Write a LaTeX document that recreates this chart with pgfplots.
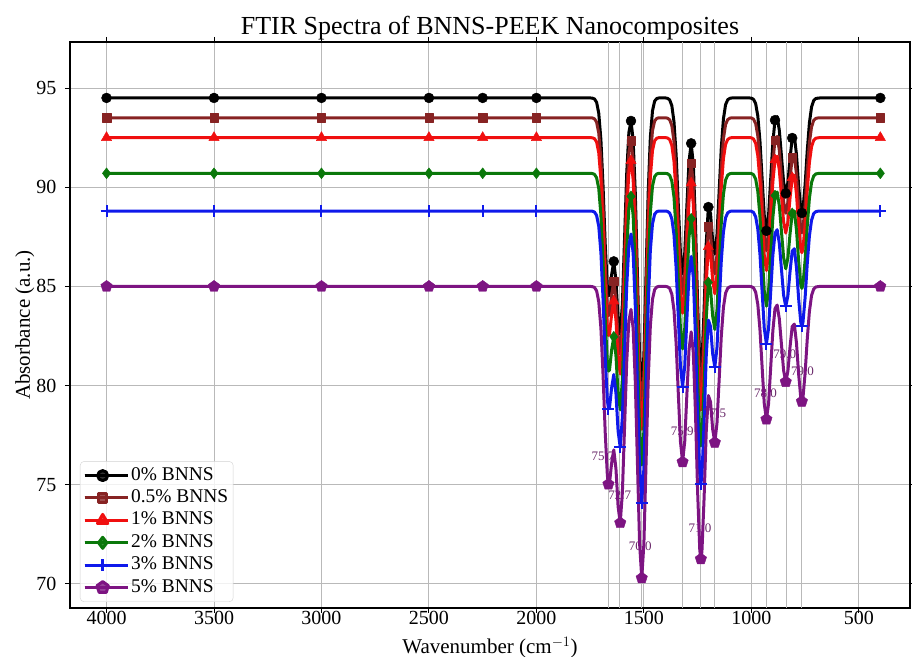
\documentclass[border=0pt]{standalone}
\usepackage{pgfplots}
\pgfplotsset{compat=1.18}
\usepackage{pgfplotstable}
\usepackage{fontspec}
\setmainfont{Liberation Serif}

\definecolor{cblack}{RGB}{0,0,0}
\definecolor{cbrown}{RGB}{135,35,35}
\definecolor{cred}{RGB}{240,15,15}
\definecolor{cgreen}{RGB}{10,120,10}
\definecolor{cblue}{RGB}{15,25,235}
\definecolor{cpurple}{RGB}{125,20,130}
\definecolor{cann}{RGB}{105,40,105}

\pgfplotstableread{
x s0 s05 s1 s2 s3 s5
4000 94.5 93.5 92.5 90.7 88.8 85.0
3500 94.5 93.5 92.5 90.7 88.8 85.0
3000 94.5 93.5 92.5 90.7 88.8 85.0
2500 94.5 93.5 92.5 90.7 88.8 85.0
2250 94.5 93.5 92.5 90.7 88.8 85.0
2000 94.5 93.5 92.5 90.7 88.8 85.0
1760 94.5 93.5 92.5 90.7 88.8 85.0
1750 94.5 93.5 92.5 90.7 88.8 85.0
1740 94.49 93.49 92.49 90.69 88.79 84.99
1730 94.45 93.45 92.45 90.65 88.75 84.95
1720 94.28 93.28 92.28 90.48 88.58 84.78
1710 93.73 92.73 91.73 89.93 88.03 84.23
1700 92.40 91.40 90.40 88.60 86.70 82.90
1690 90.05 89.05 88.05 86.25 84.35 80.55
1680 87.15 86.15 85.15 83.35 81.45 77.65
1670 84.97 83.97 82.97 81.17 79.27 75.47
1665 84.53 83.53 82.53 80.73 78.83 75.03
1660 84.58 83.58 82.58 80.78 78.88 75.08
1650 85.60 84.60 83.60 81.80 79.90 76.10
1640 86.26 85.26 84.26 82.46 80.56 76.76
1630 85.31 84.31 83.31 81.51 79.61 75.81
1620 83.40 82.40 81.40 79.60 77.70 73.90
1610 82.58 81.58 80.58 78.78 76.88 73.08
1600 84.13 83.13 82.13 80.33 78.43 74.63
1590 87.39 86.39 85.39 83.59 81.69 77.89
1580 90.67 89.67 88.67 86.87 84.97 81.17
1570 92.75 91.75 90.75 88.95 87.05 83.25
1560 93.34 92.34 91.34 89.54 87.64 83.84
1550 92.38 91.38 90.38 88.58 86.68 82.88
1540 89.70 88.70 87.70 85.90 84.00 80.20
1530 85.58 84.58 83.58 81.78 79.88 76.08
1520 81.53 80.53 79.53 77.73 75.83 72.03
1510 79.80 78.80 77.80 76.00 74.10 70.30
1500 81.53 80.53 79.53 77.73 75.83 72.03
1490 85.58 84.58 83.58 81.78 79.88 76.08
1480 89.73 88.73 87.73 85.93 84.03 80.23
1470 92.51 91.51 90.51 88.71 86.81 83.01
1460 93.85 92.85 91.85 90.05 88.15 84.35
1450 94.34 93.34 92.34 90.54 88.64 84.84
1440 94.47 93.47 92.47 90.67 88.77 84.97
1430 94.5 93.5 92.5 90.7 88.8 85.0
1400 94.5 93.5 92.5 90.7 88.8 85.0
1390 94.48 93.48 92.48 90.68 88.78 84.98
1380 94.40 93.40 92.40 90.60 88.70 84.90
1370 94.11 93.11 92.11 90.31 88.41 84.61
1360 93.30 92.30 91.30 89.50 87.60 83.80
1350 91.63 90.63 89.63 87.83 85.93 82.13
1340 89.13 88.13 87.13 85.33 83.43 79.63
1330 86.69 85.69 84.69 82.89 80.99 77.19
1320 85.65 84.65 83.65 81.85 79.95 76.15
1310 86.68 85.68 84.68 82.88 80.98 77.18
1300 89.06 88.06 87.06 85.26 83.36 79.56
1290 91.31 90.31 89.31 87.51 85.61 81.81
1280 92.21 91.21 90.21 88.41 86.51 82.71
1270 91.15 90.15 89.15 87.35 85.45 81.65
1260 88.13 87.13 86.13 84.33 82.43 78.63
1250 84.14 83.14 82.14 80.34 78.44 74.64
1240 81.20 80.20 79.20 77.40 75.50 71.70
1235 80.76 79.76 78.76 76.96 75.06 71.26
1230 81.13 80.13 79.13 77.33 75.43 71.63
1220 83.82 82.82 81.82 80.02 78.12 74.32
1210 87.17 86.17 85.17 83.37 81.47 77.67
1200 89.00 88.00 87.00 85.20 83.30 79.50
1190 88.68 87.68 86.68 84.88 82.98 79.18
1180 87.30 86.30 85.30 83.50 81.60 77.80
1170 86.63 85.63 84.63 82.83 80.93 77.13
1160 87.60 86.60 85.60 83.80 81.90 78.10
1150 89.77 88.77 87.77 85.97 84.07 80.27
1140 91.97 90.97 89.97 88.17 86.27 82.47
1130 93.44 92.44 91.44 89.64 87.74 83.94
1120 94.16 93.16 92.16 90.36 88.46 84.66
1110 94.41 93.41 92.41 90.61 88.71 84.91
1100 94.48 93.48 92.48 90.68 88.78 84.98
1090 94.5 93.5 92.5 90.7 88.8 85.0
1010 94.5 93.5 92.5 90.7 88.8 85.0
1000 94.49 93.49 92.49 90.69 88.79 84.99
990 94.43 93.43 92.43 90.63 88.73 84.93
980 94.21 93.21 92.21 90.41 88.51 84.71
970 93.59 92.59 91.59 89.79 87.89 84.09
960 92.32 91.32 90.32 88.52 86.62 82.82
950 90.44 89.44 88.44 86.64 84.74 80.94
940 88.59 87.59 86.59 84.79 82.89 79.09
930 87.80 86.80 85.80 84.00 82.10 78.30
920 88.58 87.58 86.58 84.78 82.88 79.08
910 90.43 89.43 88.43 86.63 84.73 80.93
900 92.27 91.27 90.27 88.47 86.57 82.77
890 93.38 92.38 91.38 89.58 87.68 83.88
880 93.56 92.56 91.56 89.76 87.86 84.06
870 92.87 91.87 90.87 89.07 87.17 83.37
860 91.57 90.57 89.57 87.77 85.87 82.07
850 90.26 89.26 88.26 86.46 84.56 80.76
840 89.69 88.69 87.69 85.89 83.99 80.19
830 90.23 89.23 88.23 86.43 84.53 80.73
820 91.46 90.46 89.46 87.66 85.76 81.96
810 92.48 91.48 90.48 88.68 86.78 82.98
800 92.60 91.60 90.60 88.80 86.90 83.10
790 91.63 90.63 89.63 87.83 85.93 82.13
780 90.07 89.07 88.07 86.27 84.37 80.57
770 88.87 87.87 86.87 85.07 83.17 79.37
765 88.70 87.70 86.70 84.90 83.00 79.20
760 88.88 87.88 86.88 85.08 83.18 79.38
750 90.12 89.12 88.12 86.32 84.42 80.62
740 91.84 90.84 89.84 88.04 86.14 82.34
730 93.24 92.24 91.24 89.44 87.54 83.74
720 94.04 93.04 92.04 90.24 88.34 84.54
710 94.37 93.37 92.37 90.57 88.67 84.87
700 94.47 93.47 92.47 90.67 88.77 84.97
690 94.49 93.49 92.49 90.69 88.79 84.99
680 94.5 93.5 92.5 90.7 88.8 85.0
400 94.5 93.5 92.5 90.7 88.8 85.0
}\spectra

% markers at local maxima (black, brown, red, green)
\pgfplotstableread{
x s0 s05 s1 s2
4000 94.5 93.5 92.5 90.7
3500 94.5 93.5 92.5 90.7
3000 94.5 93.5 92.5 90.7
2500 94.5 93.5 92.5 90.7
2250 94.5 93.5 92.5 90.7
2000 94.5 93.5 92.5 90.7
1640 86.26 85.26 84.26 82.46
1560 93.34 92.34 91.34 89.54
1280 92.21 91.21 90.21 88.41
1200 89.00 88.00 87.00 85.20
890 93.38 92.38 91.38 89.58
810 92.48 91.48 90.48 88.68
400 94.5 93.5 92.5 90.7
}\markmax

\pgfplotstableread{
x s0
930 87.80
840 89.69
765 88.70
}\markblackmin

% markers at minima (blue, purple)
\pgfplotstableread{
x s3 s5
4000 88.8 85.0
3500 88.8 85.0
3000 88.8 85.0
2500 88.8 85.0
2250 88.8 85.0
2000 88.8 85.0
1665 78.83 75.03
1610 76.88 73.08
1510 74.10 70.30
1320 79.95 76.15
1235 75.06 71.26
1170 80.93 77.13
930 82.10 78.30
840 83.99 80.19
765 83.00 79.20
400 88.8 85.0
}\markmin

\begin{document}
\begin{tikzpicture}
\begin{axis}[
  scale only axis, width=840pt, height=566pt,
  x dir=reverse, xmin=262, xmax=4170, ymin=68.79, ymax=97.32,
  xtick={500,1000,...,4000}, ytick={70,75,...,95},
  extra x ticks={1666,1612,1511,1321,1236,1171,930,837,765},
  extra x tick labels={},
  extra x tick style={major tick length=0pt, grid=major},
  grid=major, major grid style={draw=gray!55, line width=1pt},
  tick align=outside, major tick length=5pt,
  tick style={black, line width=1pt},
  axis line style={black, line width=1.2pt},
  tick label style={font=\fontsize{20}{24}\selectfont},
  /pgf/number format/assume math mode=true,
  /pgf/number format/1000 sep={},
  xticklabel style={anchor=base, yshift=-12pt},
  yticklabel style={anchor=east, xshift=-5pt},
  label style={font=\fontsize{21}{25}\selectfont},
  xlabel={Wavenumber (cm$^{-1}$)},
  ylabel={Absorbance (a.u.)},
  xlabel style={at={(axis description cs:0.5,-0.081)}, anchor=base},
  ylabel style={at={(axis description cs:-0.0476,0.5)}, anchor=base},
  title={FTIR Spectra of BNNS-PEEK Nanocomposites},
  title style={at={(axis description cs:0.5,1.002)}, anchor=base, font=\fontsize{26}{30}\selectfont},
  legend cell align=left,
  legend image code/.code={\draw[mark repeat=2,mark phase=2,#1] plot coordinates {(0pt,0pt) (18pt,0pt) (36pt,0pt)}; \path (0pt,0pt) -- (43pt,0pt);},
  legend style={at={(axis description cs:0.0119,0.0106)}, anchor=south west,
    draw=gray!35, rounded corners=4pt, fill=white, fill opacity=0.8, text opacity=1, draw opacity=1,
    font=\fontsize{19.4}{22}\selectfont, inner sep=3pt,
    nodes={inner ysep=2.2pt, text height=13.5pt, text depth=4.5pt}},
  every axis plot/.append style={line join=round},
]
% 0% BNNS
\addplot[cblack, line width=3pt, no marks, forget plot] table[x=x, y=s0] {\spectra};
\addplot[cblack, only marks, mark=*, mark size=5pt, forget plot] table[x=x, y=s0] {\markmax};
\addplot[cblack, only marks, mark=*, mark size=5pt, forget plot] table[x=x, y=s0] {\markblackmin};
% 0.5% BNNS
\addplot[cbrown, line width=3pt, no marks, forget plot] table[x=x, y=s05] {\spectra};
\addplot[cbrown, only marks, mark=square*, mark size=4.2pt, forget plot] table[x=x, y=s05] {\markmax};
% 1% BNNS
\addplot[cred, line width=3pt, no marks, forget plot] table[x=x, y=s1] {\spectra};
\addplot[cred, only marks, mark=triangle*, mark size=6pt, forget plot] table[x=x, y=s1] {\markmax};
% 2% BNNS
\addplot[cgreen, line width=3pt, no marks, forget plot] table[x=x, y=s2] {\spectra};
\addplot[cgreen, only marks, mark=diamond*, mark size=5.5pt, forget plot] table[x=x, y=s2] {\markmax};
% 3% BNNS
\addplot[cblue, line width=3pt, no marks, forget plot] table[x=x, y=s3] {\spectra};
\addplot[cblue, only marks, mark=+, mark size=6pt, mark options={line width=2pt}, forget plot] table[x=x, y=s3] {\markmin};
% annotations
\begin{scope}[every node/.style={font=\fontsize{13}{15}\selectfont, text=cann}]
\node at (axis cs:1690,76.45) {75.7};
\node at (axis cs:1612,74.45) {72.7};
\node at (axis cs:1517,71.9) {70.0};
\node at (axis cs:1321,77.7) {75.9};
\node at (axis cs:1239,72.8) {71.0};
\node at (axis cs:1170,78.6) {77.5};
\node at (axis cs:934,79.6) {78.0};
\node at (axis cs:845,81.6) {79.0};
\node at (axis cs:762,80.7) {79.0};
\end{scope}
% 5% BNNS
\addplot[cpurple, line width=3pt, no marks, forget plot] table[x=x, y=s5] {\spectra};
\addplot[cpurple, only marks, mark=pentagon*, mark size=6pt, forget plot] table[x=x, y=s5] {\markmin};

\addlegendimage{cblack, line width=3pt, mark=*, mark size=5pt}
\addlegendentry{0\% BNNS}
\addlegendimage{cbrown, line width=3pt, mark=square*, mark size=4.2pt}
\addlegendentry{0.5\% BNNS}
\addlegendimage{cred, line width=3pt, mark=triangle*, mark size=6pt}
\addlegendentry{1\% BNNS}
\addlegendimage{cgreen, line width=3pt, mark=diamond*, mark size=5.5pt}
\addlegendentry{2\% BNNS}
\addlegendimage{cblue, line width=3pt, mark=+, mark size=6pt}
\addlegendentry{3\% BNNS}
\addlegendimage{cpurple, line width=3pt, mark=pentagon*, mark size=6pt}
\addlegendentry{5\% BNNS}
\end{axis}
\pgfresetboundingbox
\useasboundingbox ([shift={(-70pt,-49pt)}]current axis.south west) rectangle ([shift={(2pt,42pt)}]current axis.north east);
\end{tikzpicture}
\end{document}
